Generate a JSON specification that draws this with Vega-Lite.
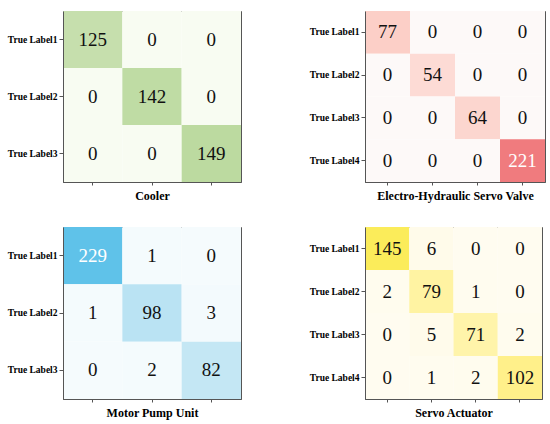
{
  "$schema": "https://vega.github.io/schema/vega-lite/v6.json",
  "background": "white",
  "padding": {"left": 6, "top": 10, "right": 5, "bottom": 5},
  "spacing": {"row": 24, "column": 66},
  "columns": 2,
  "config": {
    "view": {"stroke": "#555", "strokeWidth": 1},
    "axis": {"domainColor": "#555", "tickColor": "#555", "labelFont": "Liberation Serif", "titleFont": "Liberation Serif"}
  },
  "datasets": {
    "cm": [
      {"panel": "Cooler", "t": "True Label1", "p": "P1", "v": 125},
      {"panel": "Cooler", "t": "True Label1", "p": "P2", "v": 0},
      {"panel": "Cooler", "t": "True Label1", "p": "P3", "v": 0},
      {"panel": "Cooler", "t": "True Label2", "p": "P1", "v": 0},
      {"panel": "Cooler", "t": "True Label2", "p": "P2", "v": 142},
      {"panel": "Cooler", "t": "True Label2", "p": "P3", "v": 0},
      {"panel": "Cooler", "t": "True Label3", "p": "P1", "v": 0},
      {"panel": "Cooler", "t": "True Label3", "p": "P2", "v": 0},
      {"panel": "Cooler", "t": "True Label3", "p": "P3", "v": 149},
      {"panel": "EHSV", "t": "True Label1", "p": "P1", "v": 77},
      {"panel": "EHSV", "t": "True Label1", "p": "P2", "v": 0},
      {"panel": "EHSV", "t": "True Label1", "p": "P3", "v": 0},
      {"panel": "EHSV", "t": "True Label1", "p": "P4", "v": 0},
      {"panel": "EHSV", "t": "True Label2", "p": "P1", "v": 0},
      {"panel": "EHSV", "t": "True Label2", "p": "P2", "v": 54},
      {"panel": "EHSV", "t": "True Label2", "p": "P3", "v": 0},
      {"panel": "EHSV", "t": "True Label2", "p": "P4", "v": 0},
      {"panel": "EHSV", "t": "True Label3", "p": "P1", "v": 0},
      {"panel": "EHSV", "t": "True Label3", "p": "P2", "v": 0},
      {"panel": "EHSV", "t": "True Label3", "p": "P3", "v": 64},
      {"panel": "EHSV", "t": "True Label3", "p": "P4", "v": 0},
      {"panel": "EHSV", "t": "True Label4", "p": "P1", "v": 0},
      {"panel": "EHSV", "t": "True Label4", "p": "P2", "v": 0},
      {"panel": "EHSV", "t": "True Label4", "p": "P3", "v": 0},
      {"panel": "EHSV", "t": "True Label4", "p": "P4", "v": 221},
      {"panel": "Motor", "t": "True Label1", "p": "P1", "v": 229},
      {"panel": "Motor", "t": "True Label1", "p": "P2", "v": 1},
      {"panel": "Motor", "t": "True Label1", "p": "P3", "v": 0},
      {"panel": "Motor", "t": "True Label2", "p": "P1", "v": 1},
      {"panel": "Motor", "t": "True Label2", "p": "P2", "v": 98},
      {"panel": "Motor", "t": "True Label2", "p": "P3", "v": 3},
      {"panel": "Motor", "t": "True Label3", "p": "P1", "v": 0},
      {"panel": "Motor", "t": "True Label3", "p": "P2", "v": 2},
      {"panel": "Motor", "t": "True Label3", "p": "P3", "v": 82},
      {"panel": "Servo", "t": "True Label1", "p": "P1", "v": 145},
      {"panel": "Servo", "t": "True Label1", "p": "P2", "v": 6},
      {"panel": "Servo", "t": "True Label1", "p": "P3", "v": 0},
      {"panel": "Servo", "t": "True Label1", "p": "P4", "v": 0},
      {"panel": "Servo", "t": "True Label2", "p": "P1", "v": 2},
      {"panel": "Servo", "t": "True Label2", "p": "P2", "v": 79},
      {"panel": "Servo", "t": "True Label2", "p": "P3", "v": 1},
      {"panel": "Servo", "t": "True Label2", "p": "P4", "v": 0},
      {"panel": "Servo", "t": "True Label3", "p": "P1", "v": 0},
      {"panel": "Servo", "t": "True Label3", "p": "P2", "v": 5},
      {"panel": "Servo", "t": "True Label3", "p": "P3", "v": 71},
      {"panel": "Servo", "t": "True Label3", "p": "P4", "v": 2},
      {"panel": "Servo", "t": "True Label4", "p": "P1", "v": 0},
      {"panel": "Servo", "t": "True Label4", "p": "P2", "v": 1},
      {"panel": "Servo", "t": "True Label4", "p": "P3", "v": 2},
      {"panel": "Servo", "t": "True Label4", "p": "P4", "v": 102}
    ]
  },
  "resolve": {"scale": {"color": "independent", "x": "independent", "y": "independent"}},
  "concat": [
    {
      "width": 178, "height": 171,
      "data": {"name": "cm"},
      "transform": [{"filter": "datum.panel == 'Cooler'"}],
      "encoding": {
        "x": {"field": "p", "type": "nominal", "axis": {"labels": false, "tickSize": 3, "title": "Cooler", "titleFontSize": 12, "titleFontWeight": "bold", "titlePadding": 5, "titleColor": "black"}},
        "y": {"field": "t", "type": "nominal", "axis": {"title": null, "labelFontSize": 9.5, "labelFontWeight": "bold", "labelColor": "black", "tickSize": 4, "labelPadding": 2}}
      },
      "layer": [
        {"mark": {"type": "rect"}, "encoding": {"color": {"field": "v", "type": "quantitative", "legend": null, "scale": {"domain": [0, 149], "range": ["#f8fcf2", "#bcdaa0"]}}}},
        {"mark": {"type": "text", "font": "Liberation Serif", "fontSize": 19}, "encoding": {"text": {"field": "v", "type": "quantitative"}, "color": {"value": "#111"}}}
      ]
    },
    {
      "width": 180, "height": 171,
      "data": {"name": "cm"},
      "transform": [{"filter": "datum.panel == 'EHSV'"}],
      "encoding": {
        "x": {"field": "p", "type": "nominal", "axis": {"labels": false, "tickSize": 3, "title": "Electro-Hydraulic Servo Valve", "titleFontSize": 12, "titleFontWeight": "bold", "titlePadding": 5, "titleColor": "black"}},
        "y": {"field": "t", "type": "nominal", "axis": {"title": null, "labelFontSize": 9.5, "labelFontWeight": "bold", "labelColor": "black", "tickSize": 4, "labelPadding": 2}}
      },
      "layer": [
        {"mark": {"type": "rect"}, "encoding": {"color": {"field": "v", "type": "quantitative", "legend": null, "scale": {"domain": [0, 221], "range": ["#fdf9f8", "#f07b7e"]}}}},
        {"mark": {"type": "text", "font": "Liberation Serif", "fontSize": 19}, "encoding": {"text": {"field": "v", "type": "quantitative"}, "color": {"condition": {"test": "datum.v > 200", "value": "white"}, "value": "#111"}}}
      ]
    },
    {
      "width": 178, "height": 172,
      "data": {"name": "cm"},
      "transform": [{"filter": "datum.panel == 'Motor'"}],
      "encoding": {
        "x": {"field": "p", "type": "nominal", "axis": {"labels": false, "tickSize": 3, "title": "Motor Pump Unit", "titleFontSize": 12, "titleFontWeight": "bold", "titlePadding": 5, "titleColor": "black"}},
        "y": {"field": "t", "type": "nominal", "axis": {"title": null, "labelFontSize": 9.5, "labelFontWeight": "bold", "labelColor": "black", "tickSize": 4, "labelPadding": 2}}
      },
      "layer": [
        {"mark": {"type": "rect"}, "encoding": {"color": {"field": "v", "type": "quantitative", "legend": null, "scale": {"domain": [0, 229], "range": ["#f5fbfd", "#5fc2e9"]}}}},
        {"mark": {"type": "text", "font": "Liberation Serif", "fontSize": 19}, "encoding": {"text": {"field": "v", "type": "quantitative"}, "color": {"condition": {"test": "datum.v > 200", "value": "white"}, "value": "#111"}}}
      ]
    },
    {
      "width": 177, "height": 172,
      "data": {"name": "cm"},
      "transform": [{"filter": "datum.panel == 'Servo'"}],
      "encoding": {
        "x": {"field": "p", "type": "nominal", "axis": {"labels": false, "tickSize": 3, "title": "Servo Actuator", "titleFontSize": 12, "titleFontWeight": "bold", "titlePadding": 5, "titleColor": "black"}},
        "y": {"field": "t", "type": "nominal", "axis": {"title": null, "labelFontSize": 9.5, "labelFontWeight": "bold", "labelColor": "black", "tickSize": 4, "labelPadding": 2}}
      },
      "layer": [
        {"mark": {"type": "rect"}, "encoding": {"color": {"field": "v", "type": "quantitative", "legend": null, "scale": {"domain": [0, 145], "range": ["#fffcf0", "#fbec5a"]}}}},
        {"mark": {"type": "text", "font": "Liberation Serif", "fontSize": 19}, "encoding": {"text": {"field": "v", "type": "quantitative"}, "color": {"value": "#111"}}}
      ]
    }
  ]
}
